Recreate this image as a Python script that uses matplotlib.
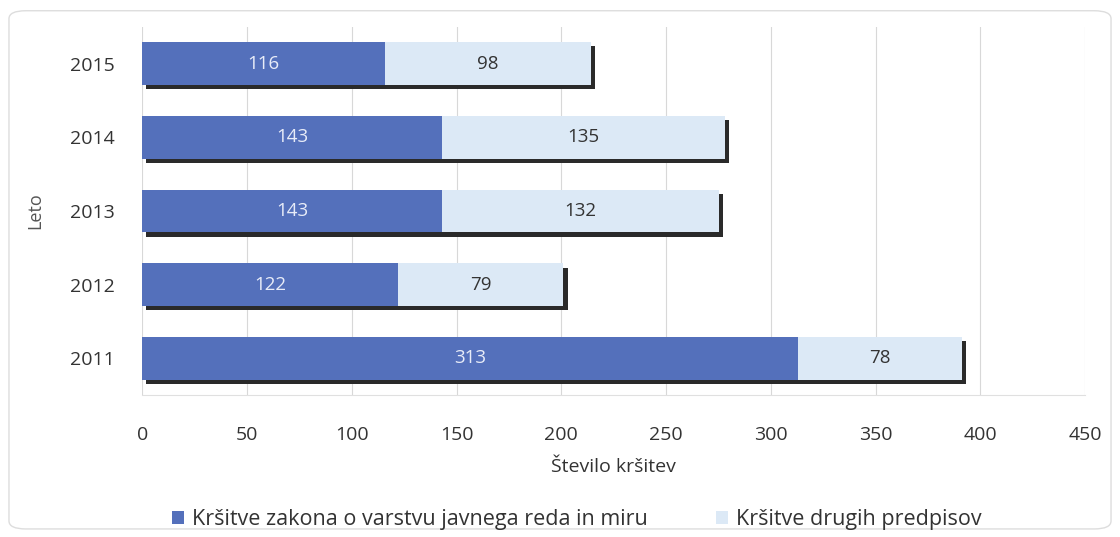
import matplotlib
matplotlib.use("Agg")
import matplotlib.pyplot as plt
import matplotlib.patheffects as pe
from matplotlib.patches import FancyBboxPatch

years = ["2011", "2012", "2013", "2014", "2015"]
javni_red = [313, 122, 143, 143, 116]
drugi = [78, 79, 132, 135, 98]

blue = "#5470bb"
light = "#dce9f6"

plt.rcParams["font.family"] = ["Open Sans", "DejaVu Sans"]

fig = plt.figure(figsize=(11.2, 5.37), dpi=100)
ax = fig.add_axes([0.127, 0.264, 0.842, 0.686])

totals = [a + b for a, b in zip(javni_red, drugi)]
h = 0.58
# shadow behind each whole bar
ax.barh(years, totals, height=h, color="#2a2a2a",
        path_effects=[pe.SimplePatchShadow(offset=(3, -3), shadow_rgbFace="#2a2a2a", alpha=1), pe.Normal()],
        zorder=2)
b1 = ax.barh(years, javni_red, height=h, color=blue, label="Kršitve zakona o varstvu javnega reda in miru", zorder=3)
b2 = ax.barh(years, drugi, left=javni_red, height=h, color=light, label="Kršitve drugih predpisov", zorder=3)

for i, (a, b) in enumerate(zip(javni_red, drugi)):
    ax.text(a / 2, i, str(a), ha="center", va="center", color="#e8ecf8", fontsize=13.5, zorder=4)
    ax.text(a + b / 2, i, str(b), ha="center", va="center", color="#333333", fontsize=13.5, zorder=4)

ax.set_xlim(0, 450)
ax.set_ylim(-0.5, 4.5)
ax.set_xticks(range(0, 451, 50))
ax.xaxis.grid(True, color="#d8d8d8", linewidth=0.8)
ax.set_axisbelow(True)
for s in ["top", "right", "left"]:
    ax.spines[s].set_visible(False)
ax.spines["bottom"].set_color("#e0e0e0")
ax.tick_params(axis="both", length=0, labelsize=14, colors="#333333")
ax.tick_params(axis="y", pad=20)
ax.tick_params(axis="x", pad=22)
ax.set_xlabel("Število kršitev", fontsize=14, color="#333333", labelpad=10)
ax.set_ylabel("Leto", fontsize=13, color="#555555", labelpad=18)

handles = [b1, b2]
fig.legend(handles, [h_.get_label() for h_ in handles], loc="center", bbox_to_anchor=(0.515, 0.032),
           ncol=2, frameon=False, fontsize=15.5, handlelength=0.55, handleheight=0.55,
           columnspacing=3.2, handletextpad=0.35, labelcolor="#333333")

fig.patches.append(FancyBboxPatch((0.008, 0.015), 0.984, 0.965, boxstyle="round,pad=0,rounding_size=0.015",
                                  transform=fig.transFigure, facecolor="none", edgecolor="#dddddd", linewidth=1))

fig.savefig("out.png", dpi=100)
